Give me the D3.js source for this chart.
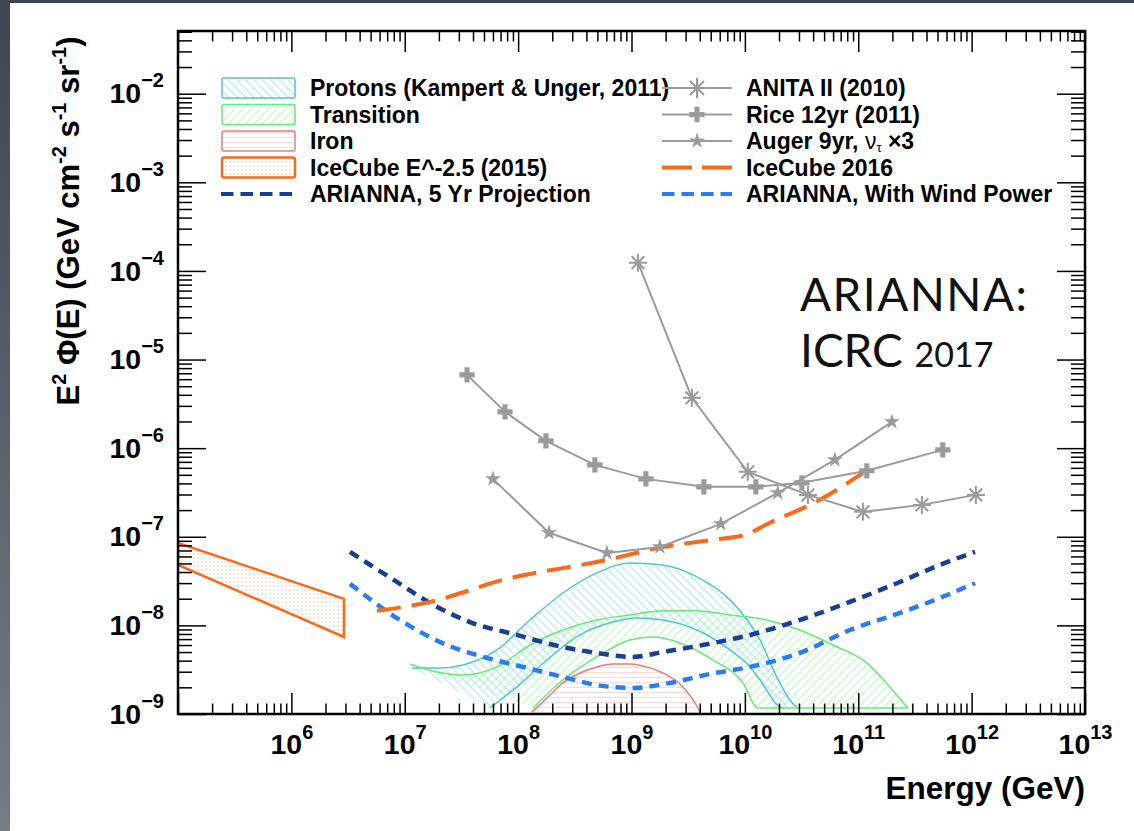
<!DOCTYPE html>
<html><head><meta charset="utf-8">
<script src="https://cdn.jsdelivr.net/npm/d3@7"></script>
<style>
html,body{margin:0;padding:0;background:#555b66;}
svg{display:block}
</style></head>
<body>
<svg id="chart" width="1134" height="831"></svg>
<script>
// ---------- axis tick values ----------
const xMajorExp = [5,6,7,8,9,10,11,12,13];
const xLabelExp = [6,7,8,9,10,11,12,13];
const yMajorExp = [-9,-8,-7,-6,-5,-4,-3,-2];
const yLabelExp = [-9,-8,-7,-6,-5,-4,-3,-2];

// ---------- legend / text ----------
const legendLeft = ["Protons (Kampert & Unger, 2011)","Transition","Iron","IceCube E^-2.5 (2015)","ARIANNA, 5 Yr Projection"];
const legendRight = ["ANITA II (2010)","Rice 12yr (2011)","Auger 9yr, ","IceCube 2016","ARIANNA, With Wind Power"];
const annotation = ["ARIANNA:","ICRC","2017"];

// ---------- model bands ----------
const protonUpE = [1.16e7,2.04e7,3.26e7,6.50e7,1.27e8,2.48e8,4.95e8,9.68e8,1.89e9,3.78e9,7.38e9,1.11e10,1.36e10,1.91e10,2.49e10,2.93e10];
const protonUpF = [3.30e-9,3.30e-9,3.57e-9,5.28e-9,1.15e-8,2.32e-8,3.91e-8,5.07e-8,4.81e-8,3.52e-8,1.94e-8,1.04e-8,6.85e-9,2.62e-9,1.44e-9,1.17e-9];
const protonLoE = [5.64e7,9.75e7,1.79e8,3.51e8,6.85e8,1.12e9,1.89e9,3.78e9,7.38e9,1.11e10,1.36e10,2.04e10,2.19e10];
const protonLoF = [1.17e-9,2.02e-9,4.07e-9,7.80e-9,1.09e-8,1.21e-8,1.15e-8,8.87e-9,5.28e-9,3.40e-9,2.42e-9,1.20e-9,1.17e-9];

const transUpE = [1.11e7,1.92e7,3.26e7,6.50e7,1.27e8,2.48e8,4.95e8,9.68e8,1.89e9,3.78e9,7.38e9,1.56e10,3.05e10,5.97e10,1.19e11,1.90e11,2.74e11];
const transUpF = [3.67e-9,2.98e-9,2.75e-9,3.40e-9,6.01e-9,8.87e-9,1.15e-8,1.31e-8,1.46e-8,1.46e-8,1.31e-8,1.15e-8,8.87e-9,6.01e-9,3.77e-9,2.02e-9,1.17e-9];
const transLoE = [1.35e8,2.48e8,4.95e8,9.68e8,1.55e9,2.67e9,5.22e9,9.62e9,1.30e10,2.74e11];
const transLoF = [1.17e-9,2.42e-9,4.41e-9,6.85e-9,7.40e-9,6.34e-9,4.07e-9,2.24e-9,1.17e-9,1.17e-9];

const ironUpE = [1.32e8,1.91e8,2.48e8,3.51e8,4.95e8,6.85e8,9.68e8,1.37e9,1.89e9,2.84e9,3.85e9,4.09e9];
const ironUpF = [1.05e-9,1.64e-9,2.24e-9,2.90e-9,3.40e-9,3.67e-9,3.67e-9,3.40e-9,2.90e-9,2.02e-9,1.17e-9,1.0e-9];
const ironLoE = [1.32e8,4.09e9];
const ironLoF = [1.0e-9,1.0e-9];

// ---------- IceCube ----------
const ic15E = [1e5,2.91e6];
const ic15Hi = [8.53e-8,1.99e-8];
const ic15Lo = [4.81e-8,7.40e-9];

const ic16E = [5.69e6,1.67e7,7.35e7,6.07e8,1.89e9,6.03e9,1.0e10,1.66e10,4.58e10,1.10e11];
const ic16F = [1.46e-8,1.84e-8,3.26e-8,5.48e-8,7.67e-8,9.46e-8,1.05e-7,1.44e-7,2.61e-7,5.26e-7];

// ---------- ARIANNA projections ----------
const ari5E = [3.29e6,8.53e6,1.67e7,3.76e7,9.75e7,2.48e8,4.95e8,1.03e9,1.89e9,4.27e9,1.11e10,3.05e10,8.43e10,2.33e11,5.25e11,1.07e12];
const ari5F = [6.75e-8,3.09e-8,1.79e-8,1.09e-8,7.80e-9,5.70e-9,4.89e-9,4.41e-9,5.01e-9,6.01e-9,7.80e-9,1.15e-8,1.84e-8,3.09e-8,4.81e-8,6.75e-8];
const ariWE = [3.29e6,8.53e6,2.36e7,4.90e7,1.10e8,2.48e8,4.95e8,1.03e9,2.18e9,4.91e9,1.11e10,3.05e10,8.43e10,2.33e11,5.25e11,1.07e12];
const ariWF = [2.94e-8,1.21e-8,6.01e-9,4.41e-9,3.40e-9,2.62e-9,2.12e-9,1.97e-9,2.24e-9,2.83e-9,3.40e-9,4.89e-9,8.87e-9,1.38e-8,2.04e-8,3.01e-8];

// ---------- measured limits ----------
const anitaE = [1.14e9,3.41e9,1.06e10,3.60e10,1.10e11,3.64e11,1.09e12];
const anitaF = [1.24e-4,3.70e-6,5.40e-7,2.97e-7,1.91e-7,2.29e-7,2.97e-7];
const riceE = [3.54e7,7.66e7,1.76e8,4.75e8,1.34e9,4.35e9,1.25e10,3.18e10,1.19e11,5.57e11];
const riceF = [6.71e-6,2.57e-6,1.21e-6,6.47e-7,4.50e-7,3.66e-7,3.66e-7,4.06e-7,5.55e-7,9.57e-7];
const augerE = [6.0e7,1.87e8,6.07e8,1.78e9,6.14e9,1.95e10,6.22e10,1.98e11];
const augerF = [4.50e-7,1.11e-7,6.58e-8,7.67e-8,1.40e-7,3.13e-7,7.38e-7,1.98e-6];

// ---------- styles ----------
const C = {cyan:"#52c6d0", cyanH:"#a3e0e7", green:"#6ae878", greenH:"#b2f0b8",
  red:"#f07a7a", redH:"#fbdada", orange:"#fa6a1a", orangeD:"#fbb894",
  navy:"#1b3d94", blue:"#2b7cf2", gray:"#9b9b9b"};
const FONT = "'Liberation Sans', Arial, Helvetica, sans-serif";

const W=1134,H=831, PL=178, PR=1085, PT=31, PB=714;
const svg = d3.select("#chart");
const defs = svg.append("defs");

const bg = defs.append("linearGradient").attr("id","bg").attr("x1",0).attr("y1",0).attr("x2",0).attr("y2",1);
bg.append("stop").attr("offset","0%").attr("stop-color","#3e4451");
bg.append("stop").attr("offset","100%").attr("stop-color","#767b84");
svg.append("rect").attr("width",W).attr("height",H).attr("fill","url(#bg)");
svg.append("rect").attr("x",10).attr("y",3).attr("width",W-10).attr("height",H-3).attr("fill","#fff");

const x = d3.scaleLog().domain([1e5,1e13]).range([PL,PR]);
const y = d3.scaleLog().domain([1e-9,5.1e-2]).range([PB,PT]);

defs.append("clipPath").attr("id","clip").append("rect")
  .attr("x",PL).attr("y",PT).attr("width",PR-PL).attr("height",PB-PT);

function hatch(id, angle, color, sp, w){
  const p = defs.append("pattern").attr("id",id).attr("patternUnits","userSpaceOnUse")
    .attr("width",sp).attr("height",sp).attr("patternTransform",`rotate(${angle})`);
  p.append("line").attr("x1",sp/2).attr("y1",0).attr("x2",sp/2).attr("y2",sp)
    .attr("stroke",color).attr("stroke-width",w);
}
hatch("hCyan",-45,C.cyanH,6,1);
hatch("hGreen",45,C.greenH,6,1);
hatch("hRed",90,C.redH,5,1);
const pd = defs.append("pattern").attr("id","hDots").attr("patternUnits","userSpaceOnUse").attr("width",4).attr("height",4);
pd.append("circle").attr("cx",2).attr("cy",2).attr("r",0.75).attr("fill",C.orangeD);

const zip = (a,b)=>a.map((v,i)=>[v,b[i]]);
const smooth = d3.line().x(d=>x(d[0])).y(d=>y(d[1])).curve(d3.curveMonotoneX);
const straight = d3.line().x(d=>x(d[0])).y(d=>y(d[1]));

function bandPath(up, lo){
  const a = smooth(up);
  const b = smooth(lo.slice().reverse());
  return a + "L" + b.slice(1) + "Z";
}

const plot = svg.append("g").attr("clip-path","url(#clip)");

// bands
const bands = [
  {up:zip(protonUpE,protonUpF), lo:zip(protonLoE,protonLoF), fill:"url(#hCyan)", stroke:C.cyan},
  {up:zip(transUpE,transUpF), lo:zip(transLoE,transLoF), fill:"url(#hGreen)", stroke:C.green},
  {up:zip(ironUpE,ironUpF), lo:zip(ironLoE,ironLoF), fill:"url(#hRed)", stroke:C.red}
];
bands.forEach(b=>{
  plot.append("path").attr("d",bandPath(b.up,b.lo)).attr("fill",b.fill).attr("stroke","none");
});
bands.forEach(b=>{
  plot.append("path").attr("d",smooth(b.up)).attr("fill","none").attr("stroke",b.stroke).attr("stroke-width",1.5);
  plot.append("path").attr("d",smooth(b.lo)).attr("fill","none").attr("stroke",b.stroke).attr("stroke-width",1.5);
});

// IceCube 2015 band
plot.append("path")
  .attr("d", straight(zip(ic15E,ic15Hi).concat(zip(ic15E,ic15Lo).reverse())) + "Z")
  .attr("fill","url(#hDots)").attr("stroke",C.orange).attr("stroke-width",2.5);

// ARIANNA projections
plot.append("path").attr("d",smooth(zip(ari5E,ari5F))).attr("fill","none")
  .attr("stroke",C.navy).attr("stroke-width",4.5).attr("stroke-dasharray","10,7");
plot.append("path").attr("d",smooth(zip(ariWE,ariWF))).attr("fill","none")
  .attr("stroke",C.blue).attr("stroke-width",4.5).attr("stroke-dasharray","10,7");

// IceCube 2016
plot.append("path").attr("d",smooth(zip(ic16E,ic16F))).attr("fill","none")
  .attr("stroke",C.orange).attr("stroke-width",4).attr("stroke-dasharray","24,11");

// markers
function asterisk(g, cx, cy, r){
  const p = d3.path();
  for(let k=0;k<4;k++){
    const a = k*Math.PI/4;
    p.moveTo(cx - r*Math.cos(a), cy - r*Math.sin(a));
    p.lineTo(cx + r*Math.cos(a), cy + r*Math.sin(a));
  }
  g.append("path").attr("d",p.toString()).attr("stroke",C.gray).attr("stroke-width",2).attr("fill","none");
}
const crossSym = d3.symbol().type(d3.symbolCross).size(130);
const starSym = d3.symbol().type(d3.symbolStar).size(80);

const gray = plot.append("g");
[zip(anitaE,anitaF), zip(riceE,riceF), zip(augerE,augerF)].forEach(s=>{
  gray.append("path").attr("d",straight(s)).attr("fill","none").attr("stroke",C.gray).attr("stroke-width",2);
});
zip(anitaE,anitaF).forEach(d=>asterisk(gray, x(d[0]), y(d[1]), 9));
zip(riceE,riceF).forEach(d=>gray.append("path").attr("d",crossSym()).attr("transform",`translate(${x(d[0])},${y(d[1])})`).attr("fill",C.gray));
zip(augerE,augerF).forEach(d=>gray.append("path").attr("d",starSym()).attr("transform",`translate(${x(d[0])},${y(d[1])})`).attr("fill",C.gray));

// ---------- axes ----------
function minorVals(exps, maxV){
  const out=[];
  exps.forEach(e=>{ for(let k=2;k<=9;k++){ const v=k*Math.pow(10,e); if(v<=maxV) out.push(v);} });
  return out;
}
const xMajor = xMajorExp.map(e=>Math.pow(10,e));
const xMinor = minorVals(xMajorExp.slice(0,-1), 1e13);
const yMajor = yMajorExp.map(e=>Math.pow(10,e));
const yMinor = minorVals(yMajorExp, 5.1e-2);

function styleAxis(g){
  g.select(".domain").remove();
  g.selectAll(".tick line").attr("stroke","#000").attr("stroke-width",1.5);
  g.selectAll(".tick text").attr("font-family",FONT).attr("font-weight","bold").attr("font-size",28.5).attr("fill","#000");
}
function relabel(g, labelExps, supDy){
  g.selectAll(".tick text").each(function(d){
    const e = Math.round(Math.log10(d));
    const t = d3.select(this);
    t.text(null);
    if(!labelExps.includes(e)) return;
    t.append("tspan").text("10");
    t.append("tspan").attr("dy",supDy).attr("font-size",20).text(String(e).replace("-","\u2212"));
  });
}
const noLab = ()=>"";
// bottom
const gxB = svg.append("g").attr("transform",`translate(0,${PB})`)
  .call(d3.axisBottom(x).tickValues(xMajor).tickSize(-21).tickPadding(20).tickFormat(d=>d));
styleAxis(gxB); relabel(gxB, xLabelExp, -15);
const gxBm = svg.append("g").attr("transform",`translate(0,${PB})`)
  .call(d3.axisBottom(x).tickValues(xMinor).tickSize(-10.5).tickFormat(noLab));
styleAxis(gxBm);
// top
const gxT = svg.append("g").attr("transform",`translate(0,${PT})`)
  .call(d3.axisTop(x).tickValues(xMajor).tickSize(-21).tickFormat(noLab));
styleAxis(gxT);
const gxTm = svg.append("g").attr("transform",`translate(0,${PT})`)
  .call(d3.axisTop(x).tickValues(xMinor).tickSize(-10.5).tickFormat(noLab));
styleAxis(gxTm);
// left
const gyL = svg.append("g").attr("transform",`translate(${PL},0)`)
  .call(d3.axisLeft(y).tickValues(yMajor).tickSize(-28).tickPadding(14).tickFormat(d=>d));
styleAxis(gyL); relabel(gyL, yLabelExp, -16);
const gyLm = svg.append("g").attr("transform",`translate(${PL},0)`)
  .call(d3.axisLeft(y).tickValues(yMinor).tickSize(-14).tickFormat(noLab));
styleAxis(gyLm);
// right
const gyR = svg.append("g").attr("transform",`translate(${PR},0)`)
  .call(d3.axisRight(y).tickValues(yMajor).tickSize(-28).tickFormat(noLab));
styleAxis(gyR);
const gyRm = svg.append("g").attr("transform",`translate(${PR},0)`)
  .call(d3.axisRight(y).tickValues(yMinor).tickSize(-14).tickFormat(noLab));
styleAxis(gyRm);

// frame
svg.append("rect").attr("x",PL).attr("y",PT).attr("width",PR-PL).attr("height",PB-PT)
  .attr("fill","none").attr("stroke","#000").attr("stroke-width",2.5);

// axis titles
svg.append("text").attr("x",PR).attr("y",799).attr("text-anchor","end")
  .attr("font-family",FONT).attr("font-weight","bold").attr("font-size",31.5).text("Energy (GeV)");

const yt = svg.append("text").attr("transform","translate(79,221) rotate(-90)").attr("text-anchor","middle")
  .attr("font-family",FONT).attr("font-weight","bold").attr("font-size",31);
[["E",0],["2",1],[" \u03A6(E) (GeV cm",0],["-2",1],[" s",0],["-1",1],[" sr",0],["-1",1],[")",0]].forEach((p,i,arr)=>{
  const prevSup = i>0 && arr[i-1][1]===1;
  const ts = yt.append("tspan").text(p[0]);
  if(p[1]===1) ts.attr("font-size",20).attr("dy",-13);
  else if(prevSup) ts.attr("dy",13);
});

// ---------- legend ----------
const leg = svg.append("g").attr("font-family",FONT).attr("font-weight","bold").attr("font-size",23);
const rowC = legendLeft.map((_,i)=>88 + 26.5*i);
const boxes = [
  {fill:"url(#hCyan)", stroke:C.cyan, w:1.5},
  {fill:"url(#hGreen)", stroke:C.green, w:1.5},
  {fill:"url(#hRed)", stroke:C.red, w:1.5},
  {fill:"url(#hDots)", stroke:C.orange, w:2.5}
];
boxes.forEach((b,i)=>{
  leg.append("rect").attr("x",222).attr("y",rowC[i]-10).attr("width",73).attr("height",20).attr("rx",2)
    .attr("fill",b.fill).attr("stroke",b.stroke).attr("stroke-width",b.w);
});
leg.append("line").attr("x1",221).attr("x2",295).attr("y1",rowC[4]).attr("y2",rowC[4])
  .attr("stroke",C.navy).attr("stroke-width",4).attr("stroke-dasharray","12.5,7");
legendLeft.forEach((t,i)=>leg.append("text").attr("x",310).attr("y",rowC[i]+8).text(t));

// right column samples
[0,1,2].forEach(i=>leg.append("line").attr("x1",662).attr("x2",732).attr("y1",rowC[i]).attr("y2",rowC[i])
  .attr("stroke",C.gray).attr("stroke-width",2));
asterisk(leg, 697, rowC[0], 10);
leg.append("path").attr("d",crossSym()).attr("transform",`translate(697,${rowC[1]})`).attr("fill",C.gray);
leg.append("path").attr("d",starSym()).attr("transform",`translate(697,${rowC[2]})`).attr("fill",C.gray);
leg.append("line").attr("x1",662).attr("x2",732).attr("y1",rowC[3]).attr("y2",rowC[3])
  .attr("stroke",C.orange).attr("stroke-width",4).attr("stroke-dasharray","30,10");
leg.append("line").attr("x1",662).attr("x2",732).attr("y1",rowC[4]).attr("y2",rowC[4])
  .attr("stroke",C.blue).attr("stroke-width",4).attr("stroke-dasharray","12.5,7");
legendRight.forEach((t,i)=>{
  const tx = leg.append("text").attr("x",746).attr("y",rowC[i]+8).text(t);
  if(i===2){
    tx.append("tspan").attr("font-weight","normal").text("\u03BD");
    tx.append("tspan").attr("font-weight","normal").attr("font-size",13).attr("dy",3).text("\u03C4");
    tx.append("tspan").attr("dy",-3).text("  \u00D73");
  }
});

// ---------- annotation ----------
const ann = svg.append("g").attr("font-family","Lato, 'Open Sans', sans-serif").attr("fill","#111");
ann.append("text").attr("x",800).attr("y",311).attr("font-size",46).attr("textLength",227).text(annotation[0]);
const a2 = ann.append("text").attr("x",800).attr("y",367).attr("font-size",46);
a2.append("tspan").text(annotation[1] + " ");
a2.append("tspan").attr("font-size",34).text(annotation[2]);
</script>
</body></html>
